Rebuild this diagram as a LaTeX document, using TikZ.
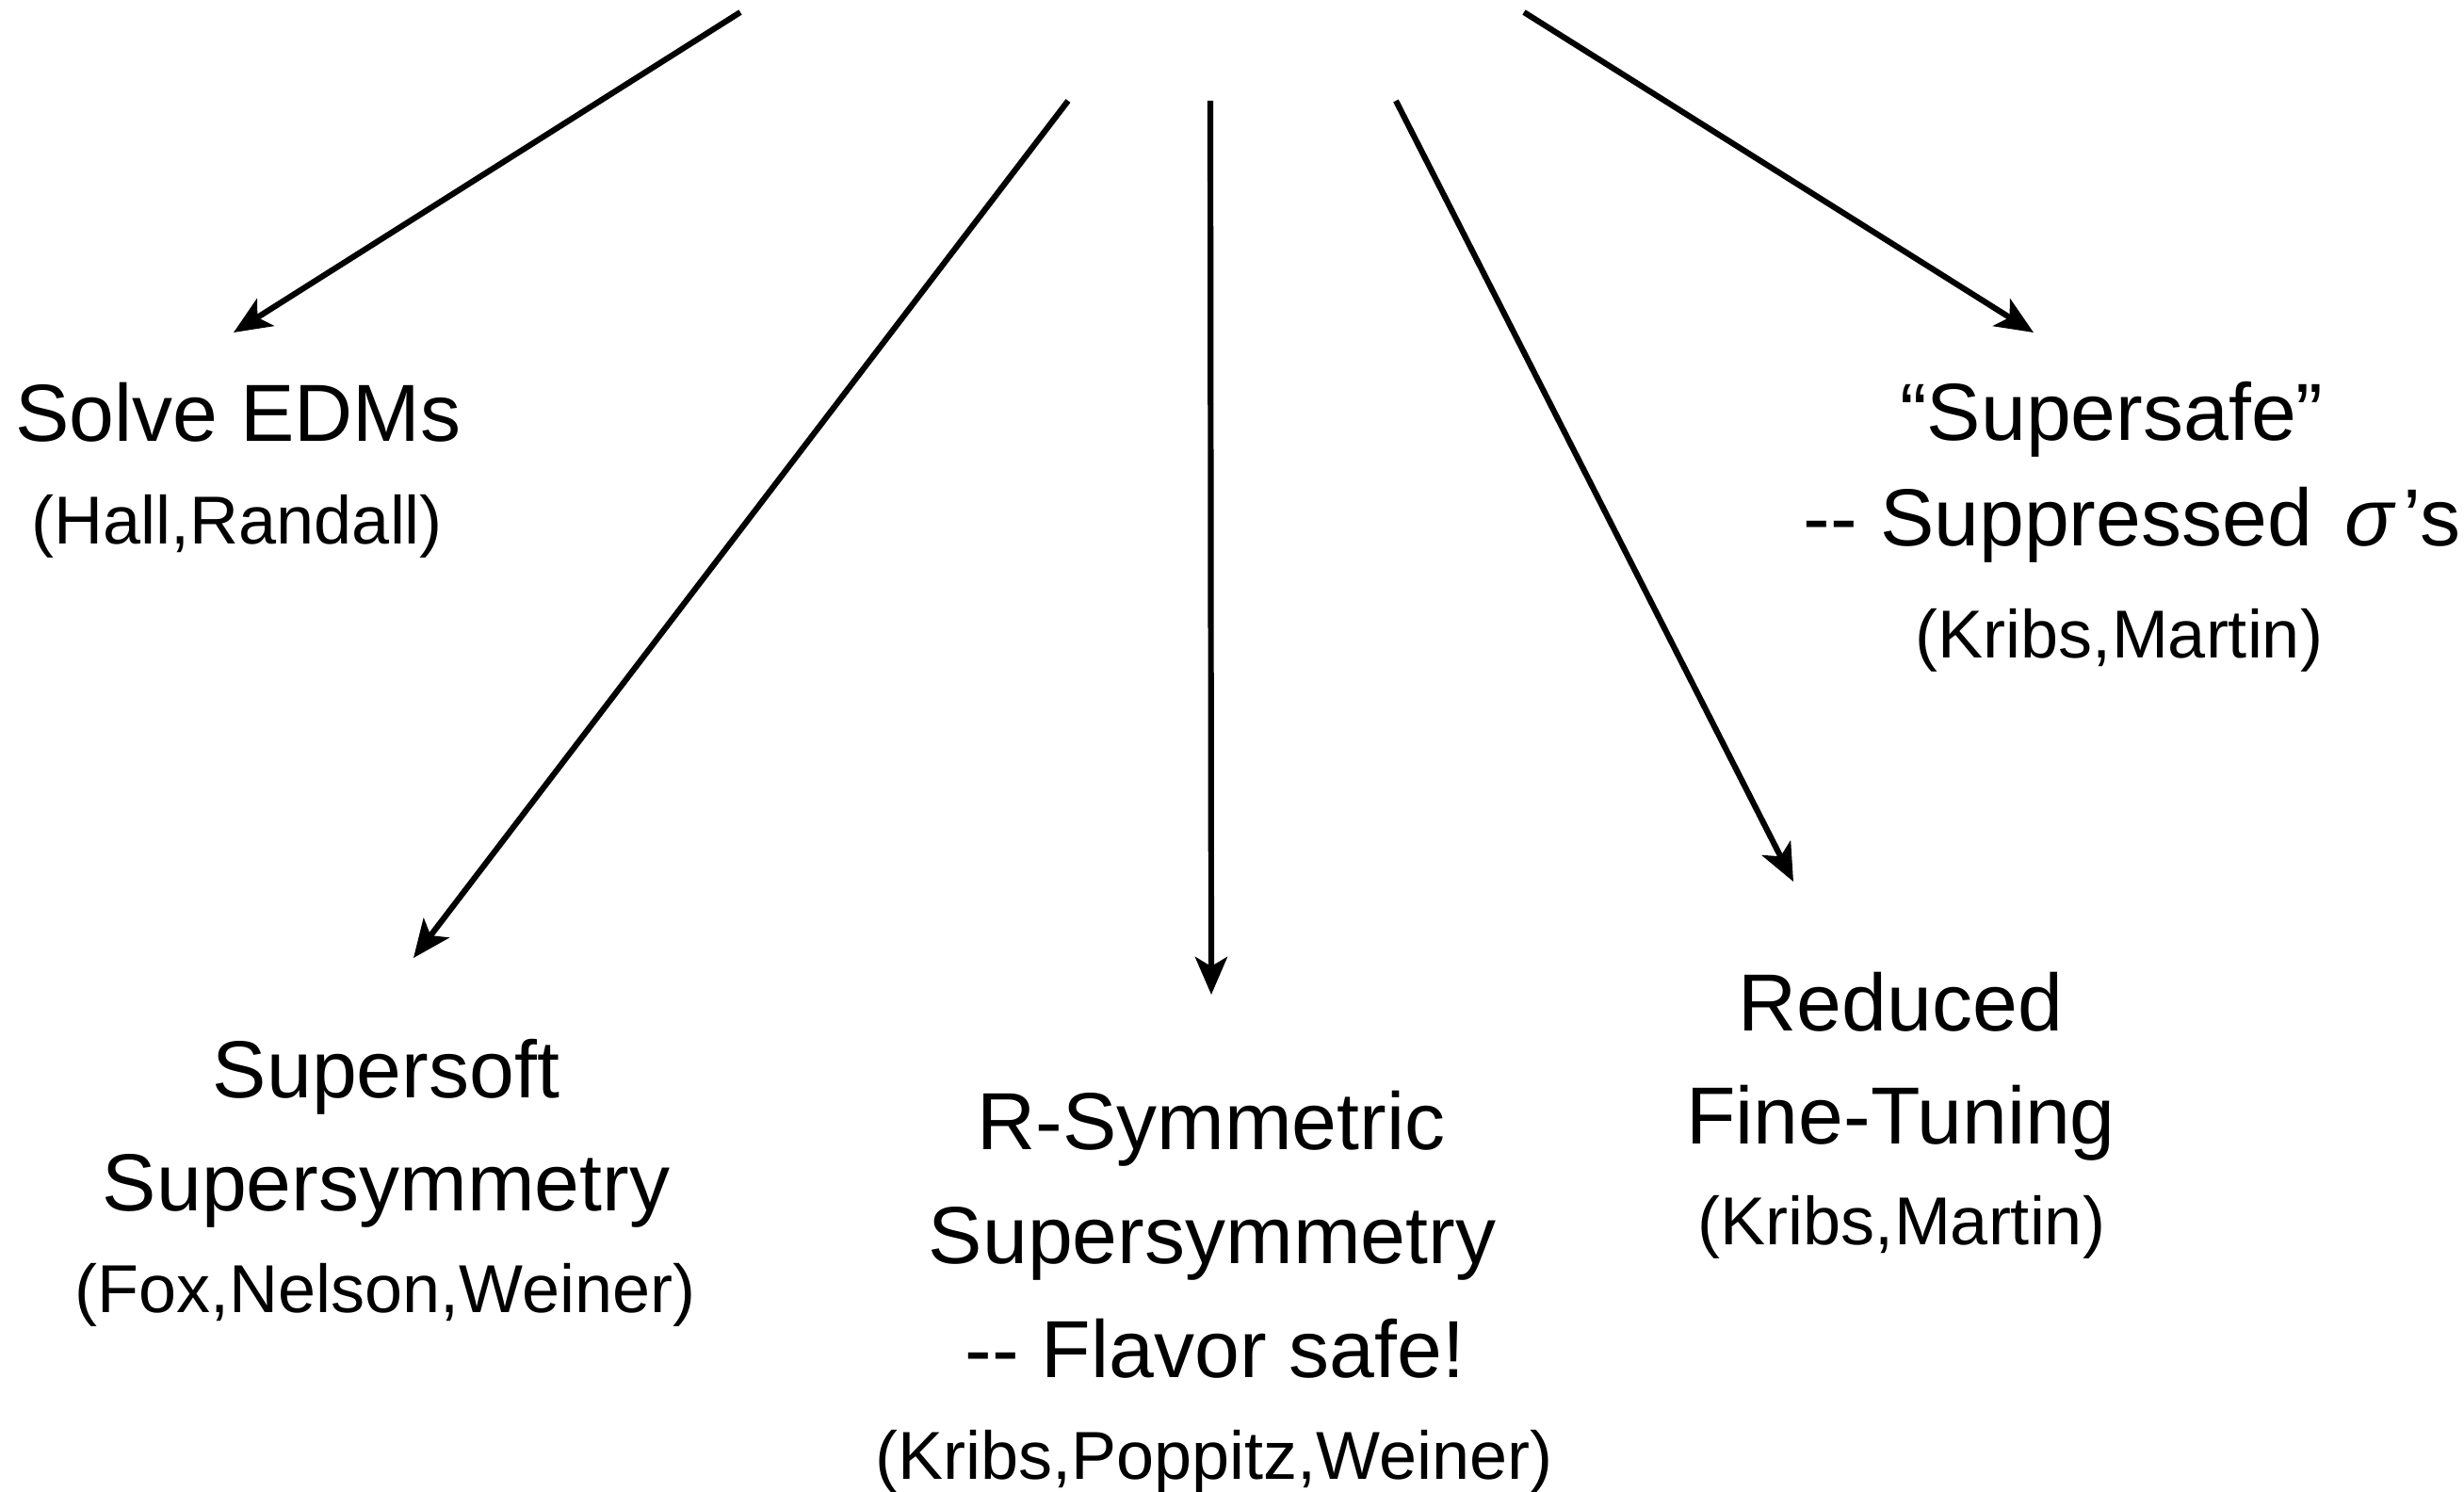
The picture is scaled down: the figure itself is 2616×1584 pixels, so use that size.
\documentclass[tikz,border=0pt]{standalone}
\usepackage{fontspec}
\setmainfont{Liberation Sans}
\usetikzlibrary{arrows.meta}
\begin{document}
\begin{tikzpicture}[x=0.25pt,y=-0.25pt,
  big/.style={font=\fontsize{21.5pt}{26pt}\selectfont, inner sep=0pt, anchor=base},
  cite/.style={font=\fontsize{18pt}{22pt}\selectfont, inner sep=0pt, anchor=base},
  arr/.style={line width=1.55pt, -{Stealth[length=10pt,width=8.5pt,inset=2.5pt]}}]
\useasboundingbox (0,0) rectangle (2616,1584);

% labels
\node[big]  (edm)   at (253,469)  {Solve EDMs};
\node[cite] (edmc)  at (252,577)  {(Hall,Randall)};

\node[big]  (ss1)   at (2242,468) {“Supersafe”};
\node[big,anchor=base east] (ss2) at (2613,579) {-{}- Suppressed\hspace{0.4em}{\itshape σ}\hspace{0.12em}’s};
\node[cite] (ssc)   at (2250,698) {(Kribs,Martin)};

\node[big]  (sf1)   at (410,1165) {Supersoft};
\node[big]  (sf2)   at (410,1285) {Supersymmetry};
\node[cite] (sfc)   at (409,1393) {(Fox,Nelson,Weiner)};

\node[big]  (rs1)   at (1286,1220) {R-Symmetric};
\node[big]  (rs2)   at (1287,1341) {Supersymmetry};
\node[big]  (rs3)   at (1290,1462) {-{}- Flavor safe!};
\node[cite] (rsc)   at (1289,1570) {(Kribs,Poppitz,Weiner)};

\node[big]  (rf1)   at (2018,1094) {Reduced};
\node[big]  (rf2)   at (2018,1214) {Fine-Tuning};
\node[cite] (rfc)   at (2019,1321) {(Kribs,Martin)};

% arrow ends
\coordinate (s1) at (786,13);    \coordinate (t1) at (248,353);
\coordinate (s2) at (1134,107);  \coordinate (t2) at (439,1017);
\coordinate (s3) at (1285,107);  \coordinate (t3) at (1286,1056);
\coordinate (s4) at (1482,107);  \coordinate (t4) at (1904,936);
\coordinate (s5) at (1618,13);   \coordinate (t5) at (2159,353);

\draw[arr] (s1) -- (t1);
\draw[arr] (s2) -- (t2);
\draw[arr] (s3) -- (t3);
\draw[arr] (s4) -- (t4);
\draw[arr] (s5) -- (t5);
\end{tikzpicture}
\end{document}
